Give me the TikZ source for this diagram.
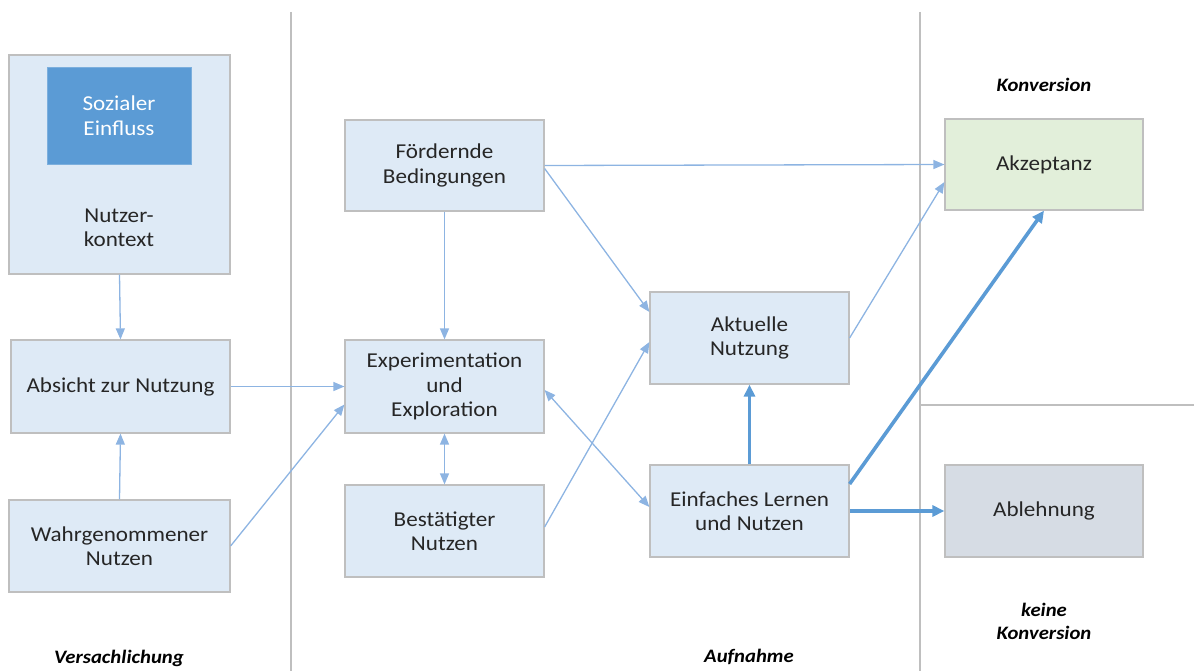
\documentclass[tikz,border=0pt]{standalone}
\usepackage{fontspec}
\setmainfont{Carlito}[FakeStretch=1.09]
\usetikzlibrary{arrows.meta}
\definecolor{boxfill}{HTML}{DEEAF6}
\definecolor{boxline}{HTML}{BFBFBF}
\definecolor{accfill}{HTML}{E2EFDA}
\definecolor{rejfill}{HTML}{D6DCE4}
\definecolor{socfill}{HTML}{5B9BD5}
\definecolor{thinarr}{HTML}{8DB4E2}
\definecolor{thickarr}{HTML}{5B9BD5}
\definecolor{sepline}{HTML}{BFBFBF}
\definecolor{txt}{HTML}{262626}
\tikzset{
  box/.style={draw=boxline, line width=1.2pt, fill=boxfill, inner sep=0pt, align=center,
    font=\fontsize{21.2}{24.5}\selectfont, text=txt},
  thinline/.style={draw=thinarr, line width=1.3pt, -{Triangle[length=11pt,width=9pt]}},
  thinboth/.style={draw=thinarr, line width=1.3pt, {Triangle[length=11pt,width=9pt]}-{Triangle[length=11pt,width=9pt]}},
  thickline/.style={draw=thickarr, line width=3.6pt, -{Triangle[length=12pt,width=11pt]}},
  sep/.style={draw=sepline, line width=1.8pt},
  phase/.style={font=\fontsize{19}{23}\selectfont\bfseries\itshape, align=center, text=black},
}
\begin{document}
\begin{tikzpicture}[x=1pt,y=-1pt]
\useasboundingbox (0,0) rectangle (1194,671);
% separators
\draw[sep] (291,12) -- (291,671);
\draw[sep] (920,12) -- (920,671);
\draw[sep] (920,405) -- (1194,405);
% nodes
\node[box, minimum width=221pt, minimum height=219pt] (ctx) at (119.5,164.5) {};
\node[draw=socfill!80!white, fill=socfill, minimum width=144pt, minimum height=97pt, inner sep=0pt, align=center,
  font=\fontsize{21.2}{24.5}\selectfont, text=white] (soz) at (119,115.5) {Sozialer\\Einfluss};
\node[align=center, font=\fontsize{21.2}{24.5}\selectfont, text=txt] (ctxt) at (119,228) {Nutzer-\\kontext};
\node[box, minimum width=219pt, minimum height=93pt] (abs) at (120.5,386.5) {Absicht zur Nutzung};
\node[box, minimum width=221pt, minimum height=92pt] (wahr) at (119.5,546) {Wahrgenommener\\Nutzen};
\node[box, minimum width=199pt, minimum height=91pt] (foer) at (444.5,165.5) {Fördernde\\Bedingungen};
\node[box, minimum width=199pt, minimum height=93pt] (exp) at (444.5,386.5) {Experimentation\\und\\Exploration};
\node[box, minimum width=199pt, minimum height=92pt] (best) at (444.5,531) {Bestätigter\\Nutzen};
\node[box, minimum width=199pt, minimum height=92pt] (akt) at (749.5,338) {Aktuelle\\Nutzung};
\node[box, minimum width=199pt, minimum height=92pt] (einf) at (749.5,511) {Einfaches Lernen\\und Nutzen};
\node[box, fill=accfill, minimum width=198pt, minimum height=91pt] (akz) at (1044,164.5) {Akzeptanz};
\node[box, fill=rejfill, minimum width=198pt, minimum height=92pt] (abl) at (1044,511) {Ablehnung};
% phase labels
\node[phase] (konv) at (1044,85) {Konversion};
\node[phase] (kkonv) at (1044,621) {keine\\Konversion};
\node[phase] (vers) at (119,658) {Versachlichung};
\node[phase] (aufn) at (749,657) {Aufnahme};
% connectors
\draw[thinline] (ctx.south) -- (abs.north);
\draw[thinline] (wahr.north) -- (abs.south);
\draw[thinline] (abs.east) -- (exp.west);
\draw[thinline] (wahr.east) -- ([yshift=-18pt]exp.west);
\draw[thinline] (foer.south) -- (exp.north);
\draw[thinboth] (exp.south) -- (best.north);
\draw[thinline] (foer.east) -- (akz.west);
\draw[thinline] ([yshift=-3pt]foer.east) -- ([yshift=26pt]akt.west);
\draw[thinline] ([yshift=4pt]best.east) -- ([yshift=-4pt]akt.west);
\draw[thinboth] ([yshift=-3.5pt]exp.east) -- ([yshift=4pt]einf.west);
\draw[thinline] (akt.east) -- ([yshift=-17.5pt]akz.west);
\draw[thickline] (einf.north) -- (akt.south);
\draw[thickline] ([yshift=27pt]einf.east) -- (akz.south);
\draw[thickline] (einf.east) -- (abl.west);
\end{tikzpicture}
\end{document}
